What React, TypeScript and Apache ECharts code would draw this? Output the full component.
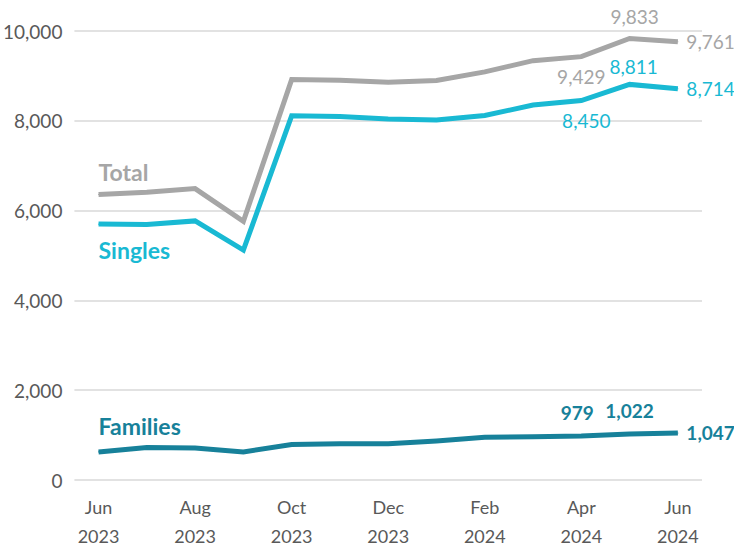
import React, { useEffect, useRef } from "react";
import * as echarts from "echarts";

const months = ["Jun\n2023", "Jul\n2023", "Aug\n2023", "Sep\n2023", "Oct\n2023", "Nov\n2023", "Dec\n2023", "Jan\n2024", "Feb\n2024", "Mar\n2024", "Apr\n2024", "May\n2024", "Jun\n2024"];
const total = [6358, 6410, 6490, 5760, 8918, 8905, 8860, 8900, 9090, 9340, 9429, 9833, 9761];
const singles = [5700, 5690, 5770, 5120, 8110, 8095, 8040, 8020, 8120, 8350, 8450, 8811, 8714];
const families = [625, 725, 715, 625, 790, 805, 810, 870, 950, 965, 979, 1022, 1047];
const yTicks = [0, 2000, 4000, 6000, 8000, 10000];

const GREY = "#a6a6a6";
const CYAN = "#19b9d3";
const TEAL = "#17819a";
const FONT = "Lato";

type LabelSpec = { [idx: number]: any };

function buildData(values: number[], color: string, name: string, nameLabel: any, specs: LabelSpec, bold: boolean) {
  return values.map((v, i) => {
    if (i === 0) {
      return {
        value: v,
        label: {
          show: true,
          formatter: name,
          color,
          fontFamily: FONT,
          fontWeight: "bold",
          fontSize: 23,
          align: "left",
          ...nameLabel,
        },
      };
    }
    const s = specs[i];
    if (s) {
      return {
        value: v,
        label: {
          show: true,
          formatter: v.toLocaleString("en-US"),
          color,
          fontFamily: FONT,
          fontWeight: bold ? "bold" : "normal",
          fontSize: 19,
          ...s,
        },
      };
    }
    return v;
  });
}

export default function App() {
  const ref = useRef<HTMLDivElement>(null);
  useEffect(() => {
    if (!ref.current) return;
    const chart = echarts.init(ref.current, null, { renderer: "svg" });
    const mkSeries = (name: string, values: number[], color: string, nameLabel: any, specs: LabelSpec, bold: boolean, z: number) => ({
      type: "line",
      name,
      z,
      data: buildData(values, color, name, nameLabel, specs, bold),
      symbol: "circle",
      symbolSize: 1,
      showSymbol: true,
      itemStyle: { color },
      lineStyle: { color, width: 5, join: "miter" },
      label: { show: false },
      emphasis: { disabled: true },
    });
    chart.setOption({
      animation: false,
      grid: { left: 74, right: 32, top: 31, bottom: 66 },
      xAxis: {
        type: "category",
        data: months,
        boundaryGap: true,
        axisTick: { show: false },
        axisLine: { show: false },
        axisLabel: {
          interval: 1,
          color: "#595959",
          fontFamily: FONT,
          fontSize: 18,
          lineHeight: 29,
          margin: 12,
        },
      },
      yAxis: {
        type: "value",
        min: yTicks[0],
        max: yTicks[yTicks.length - 1],
        interval: 2000,
        axisLine: { show: false },
        axisTick: { show: false },
        splitLine: { lineStyle: { color: "#d9d9d9", width: 1.5 } },
        axisLabel: {
          color: "#595959",
          fontFamily: FONT,
          fontSize: 19,
          margin: 12,
          formatter: (v: number) => v.toLocaleString("en-US"),
        },
      },
      series: [
        mkSeries("Families", families, TEAL, { position: "top", distance: 14 }, {
          10: { position: "top", distance: 14, offset: [-4, 0] },
          11: { position: "top", distance: 14 },
          12: { position: "right", distance: 8 },
        }, true, 2),
        mkSeries("Singles", singles, CYAN, { position: "bottom", distance: 14 }, {
          10: { position: "bottom", distance: 10, offset: [5, 0] },
          11: { position: "top", distance: 8, offset: [4, 0] },
          12: { position: "right", distance: 8 },
        }, false, 3),
        mkSeries("Total", total, GREY, { position: "top", distance: 11 }, {
          10: { position: "bottom", distance: 10 },
          11: { position: "top", distance: 12, offset: [5, 0] },
          12: { position: "right", distance: 8 },
        }, false, 4),
      ],
    });
    return () => chart.dispose();
  }, []);
  return <div ref={ref} style={{ width: 734, height: 550, position: "absolute", left: 0, top: 0 }} />;
}
